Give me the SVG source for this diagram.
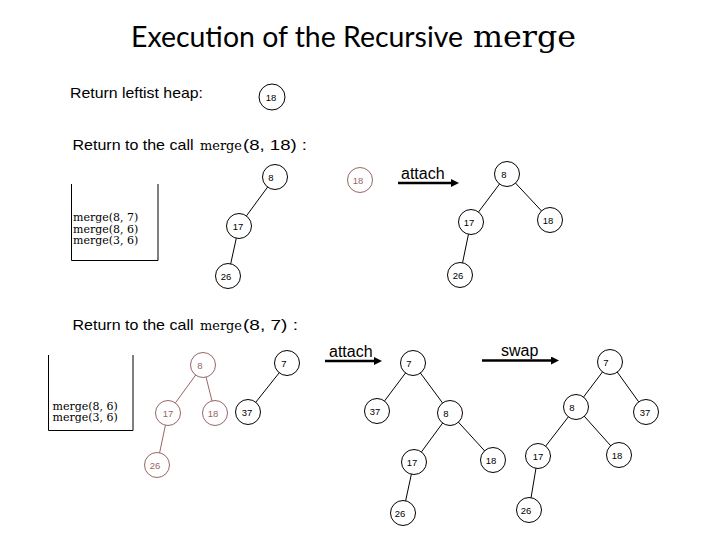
<svg xmlns="http://www.w3.org/2000/svg" width="720" height="540" viewBox="0 0 720 540">
<style>
.sans{font-family:"Liberation Sans",Arial,sans-serif;fill:#000}
.ttl{font-family:Lato,"Liberation Sans",sans-serif;fill:#000}
.ser{font-family:"DejaVu Serif","Liberation Serif",serif;fill:#000}
.node circle{fill:#fff;stroke:#000;stroke-width:1}
.node text{font-family:"Liberation Sans",Arial,sans-serif;font-size:9.5px;text-anchor:middle;fill:#000}
.br circle{stroke:#996666}
.br text{fill:#996666}
.edge{stroke:#000;stroke-width:1;fill:none}
.edge.b{stroke:#996666}
.arrow{stroke:#000;stroke-width:2.5;fill:none;marker-end:url(#ah)}
.box{stroke:#000;stroke-width:1;fill:none}
.stk{font-family:"DejaVu Serif","Liberation Serif",serif;font-size:11px;fill:#000}
</style>
<defs>
<marker id="ah" markerUnits="userSpaceOnUse" markerWidth="10" markerHeight="8" refX="2" refY="4" orient="auto">
<path d="M0,0 L8,4 L0,8 z" fill="#000"/>
</marker>
</defs>
<rect width="720" height="540" fill="#fff"/>

<g id="title">
<text class="ttl" x="131" y="47" font-size="29" textLength="332" lengthAdjust="spacingAndGlyphs">Execution of the Recursive</text>
<text class="ser" x="473" y="47" font-size="30" textLength="103" lengthAdjust="spacingAndGlyphs">merge</text>
</g>

<g id="headers">
<text class="sans" x="70" y="98" font-size="15" textLength="133" lengthAdjust="spacingAndGlyphs">Return leftist heap:</text>
<text class="sans" x="72.5" y="150" font-size="15" textLength="121" lengthAdjust="spacingAndGlyphs">Return to the call</text>
<text class="ser" x="200" y="150" font-size="13" textLength="42" lengthAdjust="spacingAndGlyphs">merge</text>
<text class="sans" x="243" y="150" font-size="15" textLength="64" lengthAdjust="spacingAndGlyphs">(8, 18) :</text>
<text class="sans" x="72.5" y="330" font-size="15" textLength="121" lengthAdjust="spacingAndGlyphs">Return to the call</text>
<text class="ser" x="200" y="330" font-size="13" textLength="42" lengthAdjust="spacingAndGlyphs">merge</text>
<text class="sans" x="243" y="330" font-size="15" textLength="55" lengthAdjust="spacingAndGlyphs">(8, 7) :</text>
</g>

<g id="stack1">
<path class="box" d="M71.5,184 V260.5 H158 V184"/>
<text class="stk" x="73" y="221">merge(8, 7)</text>
<text class="stk" x="73" y="232.5">merge(8, 6)</text>
<text class="stk" x="73" y="244">merge(3, 6)</text>
</g>

<g id="stack2">
<path class="box" d="M48.5,355 V430.5 H133 V355"/>
<text class="stk" x="52.5" y="409.5">merge(8, 6)</text>
<text class="stk" x="52.5" y="421">merge(3, 6)</text>
</g>

<g id="connectors">
<line class="edge" x1="275" y1="177" x2="239" y2="226"/>
<line class="edge" x1="239" y1="226" x2="228" y2="276"/>
<line class="edge" x1="507" y1="174" x2="471" y2="222"/>
<line class="edge" x1="507" y1="174" x2="550" y2="220"/>
<line class="edge" x1="471" y1="222" x2="460" y2="275"/>
<line class="edge b" x1="203" y1="365" x2="168" y2="413"/>
<line class="edge b" x1="203" y1="365" x2="215" y2="413"/>
<line class="edge b" x1="168" y1="413" x2="157" y2="465"/>
<line class="edge" x1="287" y1="363" x2="248" y2="412"/>
<line class="edge" x1="413" y1="363" x2="377" y2="411"/>
<line class="edge" x1="413" y1="363" x2="450" y2="413"/>
<line class="edge" x1="450" y1="413" x2="414" y2="462"/>
<line class="edge" x1="450" y1="413" x2="493" y2="460"/>
<line class="edge" x1="414" y1="462" x2="403" y2="513"/>
<line class="edge" x1="610" y1="362" x2="576" y2="407"/>
<line class="edge" x1="610" y1="362" x2="646" y2="412"/>
<line class="edge" x1="576" y1="407" x2="538" y2="456"/>
<line class="edge" x1="576" y1="407" x2="619" y2="455"/>
<line class="edge" x1="538" y1="456" x2="529" y2="510"/>
<line class="arrow" x1="398" y1="183" x2="453" y2="183"/>
<line class="arrow" x1="325" y1="361" x2="376" y2="361"/>
<line class="arrow" x1="482" y1="360.5" x2="553" y2="360.5"/>
<text class="sans" x="401" y="179" font-size="16">attach</text>
<text class="sans" x="329" y="357" font-size="16">attach</text>
<text class="sans" x="501" y="356" font-size="16">swap</text>
</g>

<g id="h18" class="node"><circle cx="272" cy="97" r="13"/><text x="271" y="100.5">18</text></g>

<g id="a8" class="node"><circle cx="275" cy="177" r="12.5"/><text x="271" y="180.5">8</text></g>
<g id="a17" class="node"><circle cx="239" cy="226" r="12.5"/><text x="238" y="229.5">17</text></g>
<g id="a26" class="node"><circle cx="228" cy="276" r="12.5"/><text x="226" y="279.5">26</text></g>
<g id="a18" class="node br"><circle cx="360" cy="180" r="12.5"/><text x="358" y="183.5">18</text></g>

<g id="b8" class="node"><circle cx="507" cy="174" r="12.5"/><text x="504" y="177.5">8</text></g>
<g id="b17" class="node"><circle cx="471" cy="222" r="12.5"/><text x="469" y="225.5">17</text></g>
<g id="b18" class="node"><circle cx="550" cy="220" r="12.5"/><text x="548" y="223.5">18</text></g>
<g id="b26" class="node"><circle cx="460" cy="275" r="12.5"/><text x="458" y="278.5">26</text></g>

<g id="c8" class="node br"><circle cx="203" cy="365" r="12.5"/><text x="200" y="368.5">8</text></g>
<g id="c17" class="node br"><circle cx="168" cy="413" r="12.5"/><text x="168" y="416.5">17</text></g>
<g id="c18" class="node br"><circle cx="215" cy="413" r="12.5"/><text x="213" y="416.5">18</text></g>
<g id="c26" class="node br"><circle cx="157" cy="465" r="12.5"/><text x="155" y="468.5">26</text></g>
<g id="c7" class="node"><circle cx="287" cy="363" r="12.5"/><text x="284" y="366.5">7</text></g>
<g id="c37" class="node"><circle cx="248" cy="412" r="12.5"/><text x="247" y="415.5">37</text></g>

<g id="d7" class="node"><circle cx="413" cy="363" r="12.5"/><text x="409" y="366.5">7</text></g>
<g id="d37" class="node"><circle cx="377" cy="411" r="12.5"/><text x="375" y="414.5">37</text></g>
<g id="d8" class="node"><circle cx="450" cy="413" r="12.5"/><text x="446" y="416.5">8</text></g>
<g id="d17" class="node"><circle cx="414" cy="462" r="12.5"/><text x="412" y="465.5">17</text></g>
<g id="d18" class="node"><circle cx="493" cy="460" r="12.5"/><text x="491" y="463.5">18</text></g>
<g id="d26" class="node"><circle cx="403" cy="513" r="12.5"/><text x="400" y="516.5">26</text></g>

<g id="e7" class="node"><circle cx="610" cy="362" r="12.5"/><text x="606" y="365.5">7</text></g>
<g id="e8" class="node"><circle cx="576" cy="407" r="12.5"/><text x="572" y="410.5">8</text></g>
<g id="e37" class="node"><circle cx="646" cy="412" r="12.5"/><text x="645" y="415.5">37</text></g>
<g id="e17" class="node"><circle cx="538" cy="456" r="12.5"/><text x="538" y="459.5">17</text></g>
<g id="e18" class="node"><circle cx="619" cy="455" r="12.5"/><text x="617" y="458.5">18</text></g>
<g id="e26" class="node"><circle cx="529" cy="510" r="12.5"/><text x="526" y="513.5">26</text></g>
</svg>
